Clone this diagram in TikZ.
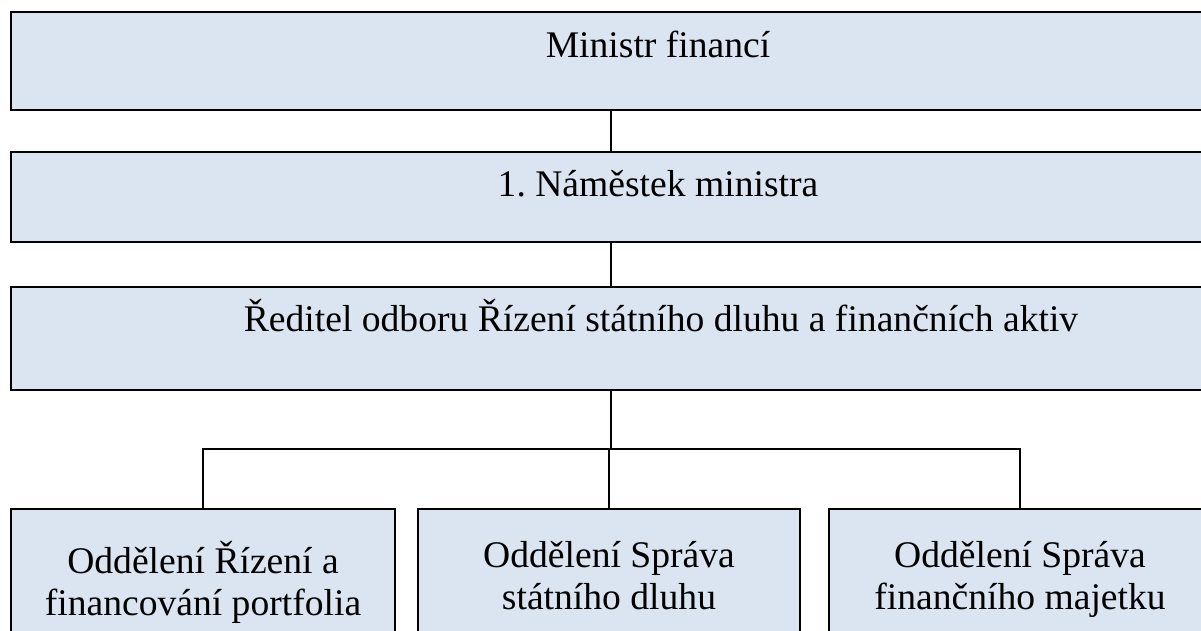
\documentclass[tikz,border=0pt]{standalone}
\usepackage{fontspec}
\setmainfont{Liberation Serif}
\frenchspacing
\definecolor{boxfill}{HTML}{DBE5F1}
\begin{document}
\begin{tikzpicture}[x=1pt,y=-1pt,
  box/.style={draw=black,fill=boxfill,line width=1.3pt,rectangle,inner sep=0pt,outer sep=0pt,anchor=north west},
  lbl/.style={font=\fontsize{37.6}{42}\selectfont,anchor=base,inner sep=0pt},
  lbl2/.style={font=\fontsize{37.6}{42}\selectfont,anchor=north,inner sep=0pt,align=center},
  conn/.style={draw=black,line width=1.3pt}]
\useasboundingbox (0,0) rectangle (1201,630);
\clip (0,0) rectangle (1201,630);
\node[box,line width=2pt,minimum width=1298pt,minimum height=98pt] (top) at (11,12) {};
\node[box,minimum width=1298pt,minimum height=90pt] (mid) at (11,152) {};
\node[box,line width=1.6pt,minimum width=1298pt,minimum height=103pt] (dir) at (11,287) {};
\node[box,minimum width=384pt,minimum height=200pt] (b1) at (11,509) {};
\node[box,minimum width=382pt,minimum height=200pt] (b2) at (418,509) {};
\node[box,minimum width=382pt,minimum height=200pt] (b3) at (829,509) {};
\node[lbl] (t1) at (658,57) {Ministr financí};
\node[lbl] (t2) at (658,196) {1. Náměstek ministra};
\node[lbl] (t3) at (661,331) {Ředitel odboru Řízení státního dluhu a finančních aktiv};
\node[lbl2] (t4) at (203,541) {Oddělení Řízení a\\financování portfolia};
\node[lbl2] (t5) at (609,541) {Oddělení Správa\\státního dluhu};
\node[lbl2] (t6) at (1020,541) {Oddělení Správa\\finančního majetku};
\coordinate (vx) at (611,0);
\coordinate (bus) at (0,449);
\draw[conn] (vx |- top.south) -- (vx |- mid.north);
\draw[conn] (vx |- mid.south) -- (vx |- dir.north);
\draw[conn,line width=1.6pt] (vx |- dir.south) -- (vx |- bus);
\draw[conn] (b1.north -| 203,0) |- (bus -| b3.north) -- (b3.north);
\draw[conn] (b2.north) -- (b2.north |- bus);
\end{tikzpicture}
\end{document}
